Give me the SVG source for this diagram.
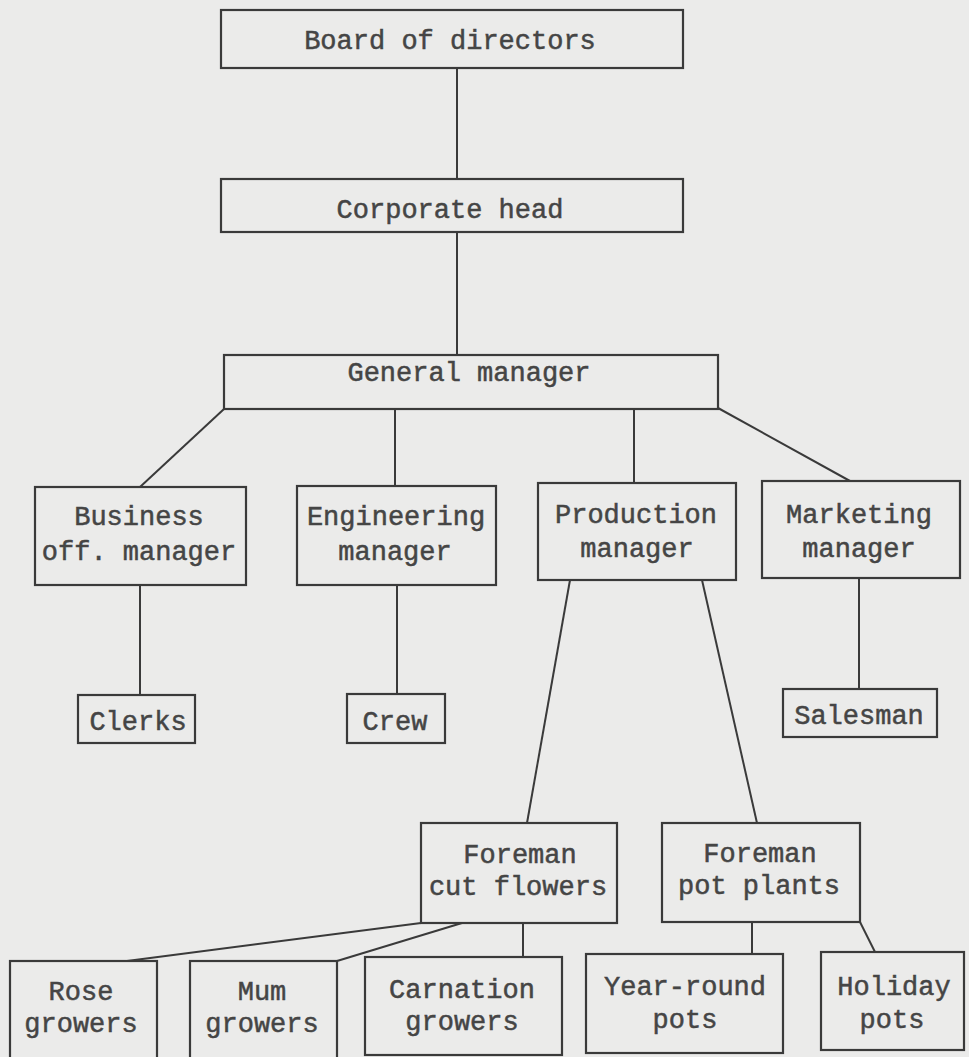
<svg xmlns="http://www.w3.org/2000/svg" width="969" height="1057" viewBox="0 0 969 1057">
<style>
.bg{fill:#ebebea}
.box{fill:#ebebea;stroke:#3a3a3a;stroke-width:2.2}
.ln{stroke:#3a3a3a;stroke-width:2;fill:none}
text{font-family:"Liberation Mono","Courier New",monospace;font-size:27px;fill:#454545;stroke:#454545;stroke-width:0.5;text-anchor:middle}
</style>
<rect class="bg" x="0" y="0" width="969" height="1057"/>
<g id="connectors">
<line class="ln" x1="457" y1="68" x2="457" y2="179"/>
<line class="ln" x1="457" y1="232" x2="457" y2="355"/>
<line class="ln" x1="224" y1="409" x2="140" y2="487"/>
<line class="ln" x1="395" y1="409" x2="395" y2="486"/>
<line class="ln" x1="634" y1="408" x2="634" y2="483"/>
<line class="ln" x1="718" y1="408" x2="850" y2="481"/>
<line class="ln" x1="140" y1="585" x2="140" y2="695"/>
<line class="ln" x1="397" y1="585" x2="397" y2="694"/>
<line class="ln" x1="859" y1="578" x2="859" y2="689"/>
<line class="ln" x1="570" y1="580" x2="527" y2="823"/>
<line class="ln" x1="702" y1="580" x2="757" y2="823"/>
<line class="ln" x1="421" y1="923" x2="127" y2="961"/>
<line class="ln" x1="462" y1="923" x2="337" y2="961"/>
<line class="ln" x1="523" y1="923" x2="523" y2="957"/>
<line class="ln" x1="752" y1="922" x2="752" y2="954"/>
<line class="ln" x1="860" y1="922" x2="875" y2="952"/>
</g>
<g id="board"><rect class="box" x="221" y="10" width="462" height="58"/><text x="450" y="49">Board of directors</text></g>
<g id="corporate"><rect class="box" x="221" y="179" width="462" height="53"/><text x="450" y="218">Corporate head</text></g>
<g id="general"><rect class="box" x="224" y="355" width="494" height="54"/><text x="469" y="381">General manager</text></g>
<g id="business"><rect class="box" x="35" y="487" width="211" height="98"/><text x="139" y="525">Business</text><text x="139" y="560">off. manager</text></g>
<g id="engineering"><rect class="box" x="297" y="486" width="199" height="99"/><text x="396" y="525">Engineering</text><text x="395" y="560">manager</text></g>
<g id="production"><rect class="box" x="538" y="483" width="198" height="97"/><text x="636" y="523">Production</text><text x="637" y="557">manager</text></g>
<g id="marketing"><rect class="box" x="762" y="481" width="198" height="97"/><text x="859" y="523">Marketing</text><text x="859" y="557">manager</text></g>
<g id="clerks"><rect class="box" x="78" y="695" width="117" height="48"/><text x="138" y="730">Clerks</text></g>
<g id="crew"><rect class="box" x="347" y="694" width="98" height="49"/><text x="395" y="730">Crew</text></g>
<g id="salesman"><rect class="box" x="783" y="689" width="154" height="48"/><text x="859" y="724">Salesman</text></g>
<g id="foreman-cut"><rect class="box" x="421" y="823" width="196" height="100"/><text x="520" y="863">Foreman</text><text x="518" y="895">cut flowers</text></g>
<g id="foreman-pot"><rect class="box" x="662" y="823" width="198" height="99"/><text x="760" y="862">Foreman</text><text x="759" y="894">pot plants</text></g>
<g id="rose"><rect class="box" x="10" y="961" width="147" height="100"/><text x="81" y="1000">Rose</text><text x="81" y="1032">growers</text></g>
<g id="mum"><rect class="box" x="190" y="961" width="147" height="100"/><text x="262" y="1000">Mum</text><text x="262" y="1032">growers</text></g>
<g id="carnation"><rect class="box" x="365" y="957" width="197" height="98"/><text x="462" y="998">Carnation</text><text x="462" y="1030">growers</text></g>
<g id="yearround"><rect class="box" x="586" y="954" width="197" height="99"/><text x="685" y="995">Year-round</text><text x="685" y="1028">pots</text></g>
<g id="holiday"><rect class="box" x="821" y="952" width="143" height="98"/><text x="894" y="995">Holiday</text><text x="892" y="1028">pots</text></g>
</svg>
